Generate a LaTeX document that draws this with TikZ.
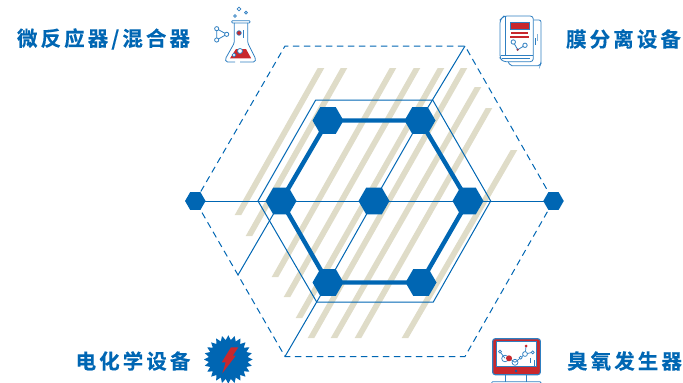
\documentclass[tikz,border=0pt]{standalone}
\usepackage{fontspec}
\newfontfamily\cjk[LetterSpace=15,BoldFont={Noto Sans CJK SC Bold},BoldFeatures={FakeBold=0.3}]{Noto Sans CJK SC}
\usetikzlibrary{shapes.geometric,shapes.misc,calc}
\definecolor{hexblue}{HTML}{0066B3}
\definecolor{iconblue}{HTML}{2F7FC1}
\definecolor{iconred}{HTML}{C8282D}
\definecolor{hatchc}{HTML}{DFDCC8}
\pgfdeclarelayer{bg}
\pgfdeclarelayer{hatch}
\pgfsetlayers{hatch,bg,main}
\tikzset{
  bighex/.style={regular polygon,regular polygon sides=6,fill=hexblue,draw=none,inner sep=0pt,minimum size=31},
  smallhex/.style={regular polygon,regular polygon sides=6,fill=hexblue,draw=none,inner sep=0pt,minimum size=20.5},
  thinline/.style={draw=hexblue,line width=1pt},
  thickline/.style={draw=hexblue,line width=4.4pt},
  dashline/.style={draw=hexblue,line width=1pt,dash pattern=on 6.5pt off 4.5pt},
  label/.style={text=hexblue,font=\cjk\bfseries\fontsize{20.5}{24}\selectfont,inner sep=0pt,anchor=center},
  icon/.style={draw=iconblue,line width=.8pt,fill=none},
  iconw/.style={draw=iconblue,line width=.8pt,fill=white},
  iconr/.style={draw=none,fill=iconred}
}
\begin{document}
\begin{tikzpicture}[x=1pt,y=-1pt]
\useasboundingbox (0,0) rectangle (683,383);
% hexagon nodes
\node[bighex] (tl) at (328,120.5) {};
\node[bighex] (tr) at (420,120.5) {};
\node[bighex] (l) at (281,201) {};
\node[bighex] (c) at (374,201) {};
\node[bighex] (r) at (468,201) {};
\node[bighex] (bl) at (328,282.5) {};
\node[bighex] (br) at (421,282.5) {};
\node[smallhex] (sl) at (195.3,201) {};
\node[smallhex] (sr) at (553.5,201) {};
% corners
\coordinate (o1) at (285,46);
\coordinate (o2) at (465,46);
\coordinate (o4) at (465,356.5);
\coordinate (o5) at (285,356.5);
\coordinate (om) at (238,275);
\coordinate (i1) at (315.7,100);
\coordinate (i2) at (432.7,100);
\coordinate (i3) at (490.7,201);
\coordinate (i4) at (433.3,302);
\coordinate (i5) at (316.7,302);
\coordinate (i6) at (258,201);
\begin{pgfonlayer}{hatch}
\foreach \xa/\ya/\xb/\yb in {321/68/238/215,344/68/249/236,393/68/275/277,417/68/287/297,441/68/299/318,464/68/311/338,478/87/334/338,489/108/358/338,514/150/405/338}{
  \fill[hatchc] (\xa-3.3,\ya) -- (\xa+3.3,\ya) -- (\xb+3.3,\yb) -- (\xb-3.3,\yb) -- cycle;
}
\end{pgfonlayer}
\begin{pgfonlayer}{bg}
\draw[dashline] (sl.center) -- (o1) -- (o2) -- (sr.center) -- (o4) -- (o5) -- cycle;
\draw[thinline] (sl.center) -- (sr.center);
\draw[thinline] (i1) -- (i2) -- (i3) -- (i4) -- (i5) -- (i6) -- cycle;
\draw[thinline] (o2) -- (tr.center) -- (c.center) -- (bl.center) -- (o5);
\draw[thinline] (om) -- (l.center);
\draw[thickline] (tl.center) -- (tr.center) -- (r.center) -- (br.center) -- (bl.center) -- (l.center) -- cycle;
\end{pgfonlayer}
% labels
\node[label] (t1) at (103.5,39) {微反应器/混合器};
\node[label] (t2) at (623.5,39) {膜分离设备};
\node[label] (t3) at (133,361) {电化学设备};
\node[label] (t4) at (624.5,361) {臭氧发生器};
% flask
\draw[icon] (239,9) circle (1.9);
\draw[icon] (246,12.7) circle (1.4);
\draw[icon] (235,16) circle (1.4);
\draw[icon,rounded corners=.8] (231.7,20.7) rectangle (250,22.9);
\draw[icon,rounded corners=1.5] (234.3,22.9) -- (234.3,43) -- (225.3,59) -- (226,62) -- (235,62);
\draw[icon,rounded corners=1.5] (247.7,22.9) -- (247.7,43) -- (255.7,59) -- (255,62) -- (240,62);
\fill[iconr] (236,49) -- (246,49) -- (251.2,58.4) -- (230,58.4) -- cycle;
\draw[iconw] (240,51) circle (2.5);
\draw[iconw] (234,55) circle (1.9);
\draw[draw=iconblue,line width=.7pt,fill=iconred] (239,33) circle (2.3);
\draw[icon] (243.3,30) -- (243.3,38);
\draw[icon] (216.7,28.7) -- (226.7,34.3) -- (216.7,40) -- cycle;
\draw[iconw] (216.7,28.7) circle (2.1);
\draw[iconw] (216.7,40) circle (2.1);
\draw[iconw] (226.7,34.3) circle (2.1);
% book
\draw[icon,rounded corners=2] (533.3,20) -- (541,20) -- (541,63.5) -- (540,65.7) -- (510,65.7) -- (508.3,61.7);
\draw[iconw,rounded corners=3] (533.3,16) -- (504,16) -- (500,20) -- (500,58) -- (503,61.7) -- (533.3,61.7) -- cycle;
\draw[icon] (505.7,16) -- (505.7,55) -- (500.5,55);
\draw[icon] (505.7,55) -- (533,55);
\draw[icon] (502,58.3) -- (530,58.3);
\draw[draw=iconblue,line width=.9pt,fill=iconred] (510,22) rectangle (529,29);
\fill[iconr] (511,32.3) rectangle (528,34);
\fill[iconr] (510,36) rectangle (529,37.6);
\draw[icon] (513.3,42) -- (517.7,49.7) -- (525,45.3);
\draw[iconw] (513.3,42) circle (2.2);
\draw[iconw] (525,45.3) circle (2.2);
\fill[iconred!70!hexblue] (517.7,49.7) circle (1.3);
\draw[draw=iconblue!60,line width=1pt] (537.7,34) -- (537.7,41);
\draw[icon] (535.7,38) -- (535.7,45);
% burst
\fill[hexblue] (252.6,359.5) \foreach \a in {0,15,...,345}{
  -- ({228.3+19.5*cos(\a+7.5)},{359.5+19.5*sin(\a+7.5)}) -- ({228.3+24.3*cos(\a+15)},{359.5+24.3*sin(\a+15)})
} -- cycle;
\fill[iconr] (231,347.3) -- (238.3,347.3) -- (232.7,355.7) -- (235.7,355.7) -- (222.3,373.3) -- (225.7,362.3) -- (221.7,362.3) -- cycle;
% monitor
\draw[draw=iconblue,line width=1.1pt,fill=iconred,rounded corners=2.5] (492.7,338.7) rectangle (540.3,374.7);
\draw[draw=iconblue,line width=.9pt,fill=white] (496,341.7) rectangle (536.7,366.7);
\fill[hexblue] (516,371) circle (1.4);
\draw[icon,line width=1.1pt] (505.7,375) -- (505.7,381.7);
\draw[icon,line width=1.1pt] (526.7,375) -- (526.7,381.7);
\draw[icon,rounded corners=1] (491.7,384) -- (491.7,381.7) -- (541,381.7) -- (541,384);
\draw[icon,line width=.7pt] (500,351.7) -- (505,358.3);
\draw[icon,line width=.7pt] (509,358.3) -- (515,362.3) -- (520.7,357.7) -- (525,354) -- (532.7,352.3);
\draw[icon,line width=.7pt] (505,358.5) circle (3.3);
\draw[icon,line width=.7pt] (515,362.3) circle (3);
\draw[iconw,line width=.7pt] (500,351.7) circle (1.5);
\draw[iconw,line width=.7pt] (520.7,357.7) circle (1.5);
\draw[iconw,line width=.7pt] (525,354) circle (2.4);
\draw[iconw,line width=.7pt] (532.7,352.3) circle (1.5);
\draw[icon,line width=.7pt] (525.5,351.5) -- (526,346);
\fill[iconr] (509,358.3) circle (3);
\fill[iconr] (526,346) circle (1.5);
\draw[icon] (530.7,358) -- (530.7,363);
\draw[icon] (534,360) -- (534,366);
\end{tikzpicture}
\end{document}
